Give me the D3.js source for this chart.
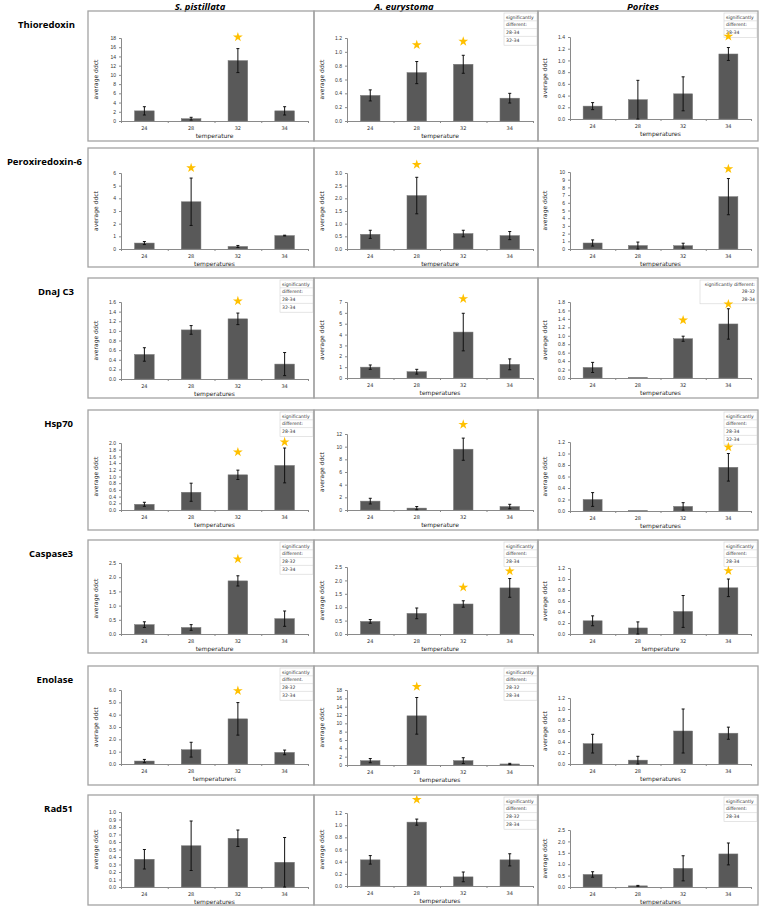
<!DOCTYPE html>
<html>
<head>
<meta charset="utf-8">
<script src="https://cdn.jsdelivr.net/npm/d3@7"></script>
<style>
body { margin: 0; background: #fff; }
</style>
</head>
<body>
<div id="chart"></div>
<script>
// ---- data ----
var genes = ["Thioredoxin", "Peroxiredoxin-6", "DnaJ C3", "Hsp70", "Caspase3", "Enolase", "Rad51"];
var species = ["S. pistillata", "A. eurystoma", "Porites"];
var temps = ["24", "28", "32", "34"];

// gene x species x temperature
var means = [
  [[2.2, 0.5, 13.1, 2.2], [0.37, 0.70, 0.82, 0.33], [0.22, 0.33, 0.43, 1.11]],
  [[0.47, 3.73, 0.20, 1.06], [0.58, 2.11, 0.61, 0.53], [0.78, 0.45, 0.43, 6.8]],
  [[0.51, 1.02, 1.25, 0.31], [1.0, 0.58, 4.23, 1.26], [0.25, 0.01, 0.93, 1.28]],
  [[0.17, 0.53, 1.05, 1.33], [1.4, 0.3, 9.6, 0.55], [0.2, 0.005, 0.08, 0.76]],
  [[0.33, 0.23, 1.87, 0.54], [0.47, 0.77, 1.12, 1.72], [0.24, 0.11, 0.41, 0.84]],
  [[0.24, 1.16, 3.66, 0.94], [1.05, 11.8, 1.05, 0.25], [0.37, 0.07, 0.6, 0.56]],
  [[0.37, 0.55, 0.65, 0.33], [0.43, 1.05, 0.15, 0.43], [0.55, 0.05, 0.82, 1.45]]
];
var errors = [
  [[0.9, 0.3, 2.6, 0.9], [0.08, 0.16, 0.13, 0.07], [0.06, 0.33, 0.29, 0.11]],
  [[0.12, 1.87, 0.08, 0.03], [0.16, 0.72, 0.13, 0.16], [0.40, 0.45, 0.32, 2.35]],
  [[0.14, 0.09, 0.12, 0.24], [0.2, 0.22, 1.73, 0.5], [0.12, 0, 0.06, 0.36]],
  [[0.06, 0.27, 0.14, 0.52], [0.45, 0.25, 1.75, 0.35], [0.12, 0, 0.065, 0.24]],
  [[0.1, 0.1, 0.18, 0.27], [0.07, 0.2, 0.12, 0.35], [0.09, 0.11, 0.29, 0.16]],
  [[0.13, 0.6, 1.32, 0.19], [0.5, 4.4, 0.7, 0.15], [0.17, 0.07, 0.4, 0.11]],
  [[0.13, 0.33, 0.11, 0.33], [0.07, 0.05, 0.08, 0.1], [0.12, 0.02, 0.55, 0.48]]
];
var yMax = [[18, 1.2, 1.4], [6, 3.0, 10], [1.6, 7, 1.8], [2.0, 12, 1.2], [2.5, 2.5, 1.2], [6.0, 18, 1.2], [1.0, 1.2, 2.5]];
var yStep = [[2, 0.2, 0.2], [1, 0.5, 1], [0.2, 1, 0.2], [0.2, 2, 0.2], [0.5, 0.5, 0.2], [1, 2, 0.2], [0.1, 0.2, 0.5]];
var yDec = [[0, 1, 1], [0, 1, 0], [1, 0, 1], [1, 0, 1], [1, 1, 1], [1, 0, 1], [1, 1, 1]];

// significance stars: [temperature index, height in axis units]
var stars = [
  [[[2, 18.2]], [[1, 1.10], [2, 1.15]], [[3, 1.41]]],
  [[[1, 6.4]], [[1, 3.33]], [[3, 10.4]]],
  [[[2, 1.62]], [[2, 7.3]], [[2, 1.37], [3, 1.75]]],
  [[[2, 1.73], [3, 2.03]], [[2, 13.5]], [[3, 1.11]]],
  [[[2, 2.64]], [[2, 1.74], [3, 2.35]], [[3, 1.15]]],
  [[[2, 5.94]], [[1, 18.8]], []],
  [[], [[1, 1.42]], []]
];

var sigNotes = [
  [null, ["significantly", "different:", "28-34", "32-34"], ["significantly", "different:", "28-34"]],
  [null, null, null],
  [["significantly", "different:", "28-34", "32-34"], null, ["significantly different:", "28-32", "28-34"]],
  [["significantly", "different:", "28-34"], null, ["significantly", "different:", "28-34", "32-34"]],
  [["significantly", "different:", "28-32", "32-34"], ["significantly", "different:", "28-34"], ["significantly", "different:", "28-34"]],
  [["significantly", "different.", "28-32", "32-34"], ["significantly", "different:", "28-32", "28-34"], null],
  [null, ["significantly", "different:", "28-32", "28-34"], ["significantly", "different:", "28-34"]]
];

var xTitles = [
  ["temperature", "temperature", "temperatures"],
  ["temperatures", "temperature", "temperatures"],
  ["temperatures", "temperatures", "temperatures"],
  ["temperatures", "temperature", "temperatures"],
  ["temperature", "temperature", "temperature"],
  ["temperaturers", "temperatures", "temperatures"],
  ["temperatures", "temperatures", "temperatures"]
];

// ---- layout ----
var W = 762, H = 908;
var boxX = [[88, 314], [314, 538], [538, 758]];
var boxY = [[11, 141], [148, 267], [278, 398], [410, 530], [540, 653], [666, 785], [795, 905]];
var axisX = [[121, 308], [347, 533], [570, 751]];
var plotY = [
  [[38, 121], [38, 121], [37, 119]],
  [[173, 249], [173, 249], [172, 249]],
  [[302, 379], [302, 378], [302, 378]],
  [[443, 510], [434, 510], [442, 511]],
  [[563, 634], [567, 634], [568, 634]],
  [[690, 764], [690, 765], [698, 764]],
  [[812, 887], [813, 886], [830, 887]]
];
var headerX = [200, 404, 643];
var geneX = [75, 82, 74, 73, 73, 73, 73];

var svg = d3.select("#chart").append("svg")
  .attr("width", W)
  .attr("height", H)
  .style("font-family", "'DejaVu Sans', Verdana, sans-serif");

// column headers
svg.selectAll("text.head").data(species).enter().append("text")
  .attr("class", "head")
  .attr("x", function(d, i){ return headerX[i]; })
  .attr("y", 10)
  .attr("text-anchor", "middle")
  .style("font-family", "'Open Sans', sans-serif")
  .style("font-size", "9.5px")
  .style("font-weight", "bold")
  .style("font-style", "italic")
  .text(function(d){ return d; });

// gene labels
svg.selectAll("text.gene").data(genes).enter().append("text")
  .attr("class", "gene")
  .attr("x", function(d, i){ return geneX[i]; })
  .attr("y", function(d, i){ return boxY[i][0] + 17; })
  .attr("text-anchor", "end")
  .style("font-family", "'Open Sans', sans-serif")
  .style("font-size", "9.5px")
  .style("font-weight", "bold")
  .text(function(d){ return d; });

var starGen = d3.symbol().type(d3.symbolStar).size(30);

genes.forEach(function(gene, g){
  species.forEach(function(sp, s){
    var bx = boxX[s], by = boxY[g];
    var ax = axisX[s], py = plotY[g][s];
    var panel = svg.append("g");

    var clipId = "clip" + g + "_" + s;
    panel.append("clipPath").attr("id", clipId)
      .append("rect")
      .attr("x", bx[0]).attr("y", by[0])
      .attr("width", bx[1] - bx[0]).attr("height", by[1] - by[0]);

    var x = d3.scaleBand().domain(temps).range(ax).paddingInner(0.58).paddingOuter(0.29);
    var xb = d3.scaleLinear().domain([0, temps.length]).range(ax);
    var y = d3.scaleLinear().domain([0, yMax[g][s]]).range([py[1], py[0]]);
    var step = yStep[g][s];

    // y axis
    var yAxis = d3.axisLeft(y)
      .tickValues(d3.range(0, yMax[g][s] + step / 2, step))
      .tickSize(2)
      .tickPadding(3)
      .tickFormat(d3.format("." + yDec[g][s] + "f"));
    var ya = panel.append("g").attr("transform", "translate(" + ax[0] + ",0)").call(yAxis);
    ya.selectAll("text").style("font-size", "5px").attr("fill", "#333");
    ya.selectAll("line,path").attr("stroke", "#8a8a8a");

    // x axis: ticks between categories, labels under bars
    var xa = panel.append("g").attr("transform", "translate(0," + py[1] + ")")
      .call(d3.axisBottom(xb).ticks(4).tickSize(2).tickFormat(""));
    xa.selectAll("line,path").attr("stroke", "#8a8a8a");
    panel.selectAll("text.xt").data(temps).enter().append("text")
      .attr("class", "xt")
      .attr("x", function(d){ return x(d) + x.bandwidth() / 2; })
      .attr("y", py[1] + 9)
      .attr("text-anchor", "middle")
      .style("font-size", "5px")
      .attr("fill", "#333")
      .text(function(d){ return d; });

    // titles
    panel.append("text")
      .attr("x", (ax[0] + ax[1]) / 2)
      .attr("y", py[1] + 17)
      .attr("text-anchor", "middle")
      .style("font-size", "6px")
      .attr("fill", "#222")
      .text(xTitles[g][s]);
    panel.append("text")
      .attr("transform", "translate(" + (ax[0] - 23) + "," + ((py[0] + py[1]) / 2) + ") rotate(-90)")
      .attr("text-anchor", "middle")
      .style("font-size", "6px")
      .attr("fill", "#222")
      .text("average ddct");

    // bars
    var rows = temps.map(function(t, i){
      return { t: t, v: means[g][s][i], e: errors[g][s][i] };
    });
    panel.selectAll("rect.bar").data(rows).enter().append("rect")
      .attr("class", "bar")
      .attr("x", function(d){ return x(d.t); })
      .attr("width", x.bandwidth())
      .attr("y", function(d){ return y(d.v); })
      .attr("height", function(d){ return y(0) - y(d.v); })
      .attr("fill", "#595959")
      .attr("stroke", "#7a7a7a")
      .attr("stroke-width", 0.5);

    // error bars
    var eb = panel.selectAll("g.err").data(rows.filter(function(d){ return d.e > 0; }))
      .enter().append("g").attr("class", "err");
    eb.append("line")
      .attr("x1", function(d){ return x(d.t) + x.bandwidth() / 2; })
      .attr("x2", function(d){ return x(d.t) + x.bandwidth() / 2; })
      .attr("y1", function(d){ return y(Math.max(0, d.v - d.e)); })
      .attr("y2", function(d){ return y(d.v + d.e); });
    [function(d){ return d.v + d.e; }, function(d){ return Math.max(0, d.v - d.e); }].forEach(function(f){
      eb.append("line")
        .attr("x1", function(d){ return x(d.t) + x.bandwidth() / 2 - 1.5; })
        .attr("x2", function(d){ return x(d.t) + x.bandwidth() / 2 + 1.5; })
        .attr("y1", function(d){ return y(f(d)); })
        .attr("y2", function(d){ return y(f(d)); });
    });
    eb.selectAll("line").attr("stroke", "#111").attr("stroke-width", 1);

    // significance note
    var note = sigNotes[g][s];
    if (note) {
      var wide = note[0].indexOf(" ") > 0;
      var lw = wide ? 58 : 34, rh = wide ? 7.6 : 7.8;
      var lx = bx[1] - lw, ly = by[0] + 2;
      var lg = panel.append("g");
      lg.append("rect")
        .attr("x", lx).attr("y", ly)
        .attr("width", lw - 1).attr("height", rh * note.length + 1)
        .attr("fill", "#fff").attr("stroke", "#d4d4d4").attr("stroke-width", 0.6);
      if (!wide) {
        lg.selectAll("line").data(note.slice(1)).enter().append("line")
          .attr("x1", lx).attr("x2", lx + lw - 1)
          .attr("y1", function(d, i){ return ly + rh * (i + 1); })
          .attr("y2", function(d, i){ return ly + rh * (i + 1); })
          .attr("stroke", "#d4d4d4").attr("stroke-width", 0.6);
      }
      lg.selectAll("text").data(note).enter().append("text")
        .attr("x", wide ? lx + lw - 3 : lx + 2)
        .attr("y", function(d, i){ return ly + rh * i + 5.6; })
        .attr("text-anchor", wide ? "end" : "start")
        .style("font-size", "4.6px")
        .attr("fill", "#333")
        .text(function(d){ return d; });
    }

    // stars (drawn above the notes)
    panel.append("g").attr("clip-path", "url(#" + clipId + ")")
      .selectAll("path").data(stars[g][s]).enter().append("path")
      .attr("transform", function(d){
        return "translate(" + (x(temps[d[0]]) + x.bandwidth() / 2) + "," + y(d[1]) + ")";
      })
      .attr("d", starGen)
      .attr("fill", "#ffc000");

    // panel frame
    panel.append("rect")
      .attr("x", bx[0]).attr("y", by[0])
      .attr("width", bx[1] - bx[0]).attr("height", by[1] - by[0])
      .attr("fill", "none")
      .attr("stroke", "#a3a3a3")
      .attr("stroke-width", 1.3);
  });
});
</script>
</body>
</html>
